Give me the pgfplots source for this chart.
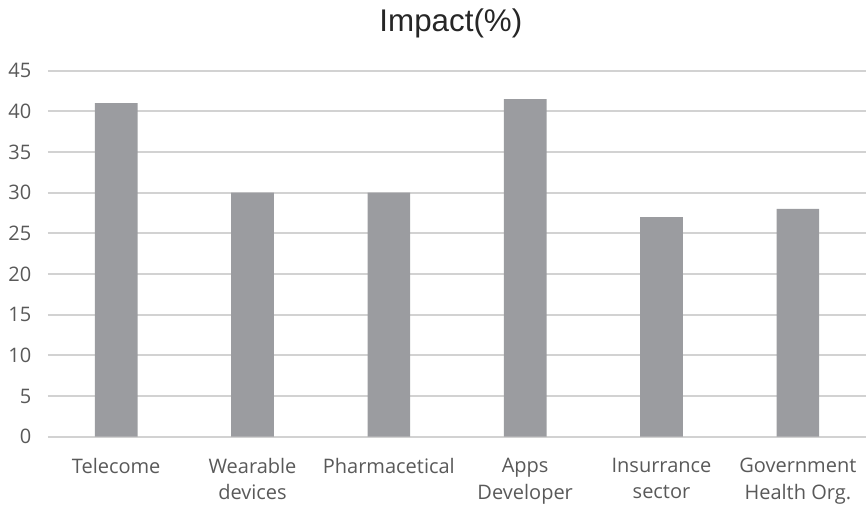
\documentclass[border=0pt]{standalone}
\usepackage{pgfplots}
\pgfplotsset{compat=1.18}
\usepackage{fontspec}
\setmainfont{Open Sans}
\newfontfamily\titlefont{Liberation Sans}
\definecolor{barfill}{RGB}{155,156,160}
\definecolor{gridgray}{RGB}{210,210,210}
\definecolor{ticktext}{RGB}{89,89,89}
\definecolor{titletext}{RGB}{38,38,38}

\begin{document}
\begin{tikzpicture}
% page extent, measured from the lower left corner of the plot area
\useasboundingbox (-36pt,-51.2pt) rectangle (613.5pt,327.5pt);
\begin{axis}[
  at={(0,0)}, anchor=south west,
  scale only axis,
  width=613.5pt, height=274.5pt,
  xmin=-0.5, xmax=5.5,
  ymin=0, ymax=45,
  ytick={0,5,...,45},
  xtick={0,1,2,3,4,5},
  xticklabels={Telecome,{Wearable\\devices},Pharmacetical,{Apps\\Developer},{Insurrance\\sector},{Government\\Health Org.}},
  axis line style={draw=none},
  axis x line*=bottom,
  ymajorgrids,
  major grid style={gridgray, line width=1.3pt},
  major tick length=0pt,
  /pgf/number format/assume math mode=true,
  tick label style={text=ticktext, font=\fontsize{15}{20}\selectfont},
  xticklabel style={align=center, anchor=north, yshift=-12.5pt},
  yticklabel style={anchor=east, xshift=-9pt},
  clip=false,
]
\draw[gridgray, line width=1.3pt] (rel axis cs:0,0) -- (rel axis cs:1,0);
\addplot[ybar, bar width=32pt, fill=barfill, draw=none]
  coordinates {(0,41) (1,30) (2,30) (3,41.5) (4,27) (5,28)};
\node[font=\titlefont\fontsize{23.5}{28}\selectfont, text=titletext]
  at (rel axis cs:0.4925,1) [yshift=35.8pt] {Impact(\%)};
\end{axis}
\end{tikzpicture}
\end{document}
